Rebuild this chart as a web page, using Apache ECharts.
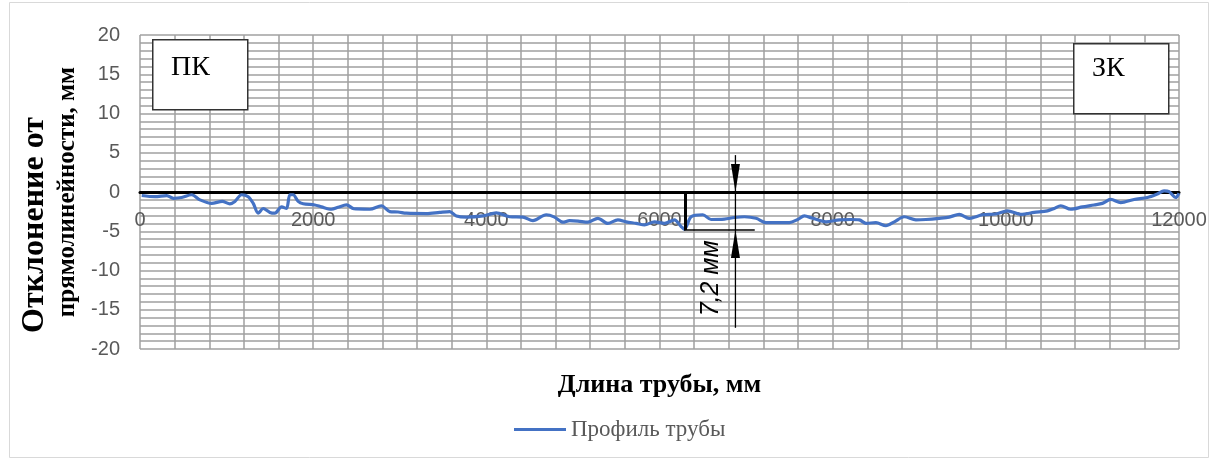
<!DOCTYPE html>
<html>
<head>
<meta charset="utf-8">
<script src="https://cdn.jsdelivr.net/npm/echarts@6/dist/echarts.min.js"></script>
<style>
html,body{margin:0;padding:0;background:#fff;}
#chart{width:1213px;height:459px;}
</style>
</head>
<body>
<div id="chart"></div>
<script>
// ---- data ----
const seriesName = 'Профиль трубы';
const lengthMm = [20,173,308,385,481,596,692,827,950,1038,1096,1173,1250,1308,1365,1423,1500,1558,1635,1692,1731,1769,1827,1885,2019,2096,2212,2288,2385,2461,2500,2654,2788,2885,2981,3077,3308,3461,3577,3654,3769,3962,4115,4269,4423,4538,4692,4788,4885,4962,5058,5173,5288,5404,5519,5615,5731,5827,5942,6058,6173,6250,6288,6365,6500,6596,6750,6865,6981,7115,7231,7365,7500,7596,7673,7769,7923,8077,8212,8308,8385,8500,8615,8712,8827,8962,9077,9231,9346,9462,9577,9731,9885,10019,10173,10327,10481,10558,10635,10750,10885,11019,11115,11212,11327,11481,11635,11750,11827,11885,11962,12000];
const deviationMm = [-0.45,-0.6,-0.45,-0.8,-0.7,-0.35,-1.0,-1.45,-1.2,-1.5,-1.2,-0.35,-0.6,-1.45,-2.7,-2.1,-2.6,-2.7,-1.9,-2.1,-0.35,-0.35,-1.2,-1.5,-1.65,-1.9,-2.2,-1.95,-1.65,-2.1,-2.15,-2.2,-1.75,-2.5,-2.55,-2.7,-2.75,-2.6,-2.5,-3.05,-3.2,-3.05,-2.65,-3.15,-3.2,-3.65,-2.9,-3.2,-3.85,-3.65,-3.7,-3.85,-3.35,-4.0,-3.55,-3.8,-4.0,-4.2,-3.8,-4.0,-3.55,-4.4,-4.75,-3.15,-2.9,-3.5,-3.45,-3.25,-3.15,-3.35,-3.9,-3.9,-3.9,-3.5,-3.05,-3.35,-3.8,-3.55,-3.5,-3.55,-4.0,-3.9,-4.3,-3.8,-3.15,-3.55,-3.5,-3.35,-3.2,-2.85,-3.35,-2.9,-2.8,-2.4,-2.85,-2.6,-2.4,-2.1,-1.75,-2.2,-1.9,-1.65,-1.45,-0.95,-1.35,-0.95,-0.7,-0.25,0.15,0.05,-0.7,-0.15];
const xTicks = {min: 0, max: 12000, step: 2000};
const yTicks = {min: -20, max: 20, step: 5};
const xTitle = 'Длина трубы, мм';
const yTitleLine1 = 'Отклонение от';
const yTitleLine2 = 'прямолинейности, мм';
const startLabel = 'ПК';
const endLabel = 'ЗК';
// dimension annotation (data coordinates)
const dimBarX = 6300;
const dimBottomY = -4.84;
const dimTickEndX = 7100;
const dimLineX = 6877;
const dimTopY = 4.7;
const dimLineBottomY = -17.3;
const dimTextY = -11;
const dimLabel = '7,2 мм';

const profile = lengthMm.map((x, i) => [x, deviationMm[i]]);

const chart = echarts.init(document.getElementById('chart'), null, {renderer: 'canvas'});
const gridColor = '#a0a0a0';
const option = {
  animation: false,
  backgroundColor: '#fff',
  grid: {left: 140, right: 34, top: 35, bottom: 110, containLabel: false, outerBoundsMode: 'none'},
  legend: {
    data: [seriesName],
    left: 514, top: 418, padding: 0,
    icon: 'rect', itemWidth: 52, itemHeight: 3, itemGap: 10,
    textStyle: {fontFamily: 'Liberation Serif', fontSize: 23, color: '#595959'}
  },
  xAxis: {
    type: 'value', min: xTicks.min, max: xTicks.max, interval: xTicks.step,
    name: xTitle, nameLocation: 'middle', nameGap: 23,
    nameTextStyle: {fontFamily: 'Liberation Serif', fontWeight: 'bold', fontSize: 26, color: '#000'},
    axisLine: {show: true, onZero: true, lineStyle: {color: '#000', width: 3}},
    axisTick: {show: false},
    axisLabel: {margin: -139, fontFamily: 'Liberation Sans', fontSize: 20, color: '#595959', formatter: v => String(v)},
    splitLine: {show: true, lineStyle: {color: gridColor, width: 1.5}},
    minorTick: {show: false, splitNumber: 5},
    minorSplitLine: {show: true, lineStyle: {color: gridColor, width: 1.5}}
  },
  yAxis: {
    type: 'value', min: yTicks.min, max: yTicks.max, interval: yTicks.step,
    name: '{a|' + yTitleLine1 + '}\n{b|' + yTitleLine2 + '}',
    nameLocation: 'middle', nameGap: 55, nameRotate: 90,
    nameTextStyle: {
      fontFamily: 'Liberation Serif', fontWeight: 'bold', color: '#000',
      rich: {
        a: {fontFamily: 'Liberation Serif', fontWeight: 'bold', fontSize: 32, color: '#000', lineHeight: 36, padding: [0, 66, 0, 0]},
        b: {fontFamily: 'Liberation Serif', fontWeight: 'bold', fontSize: 25, color: '#000', lineHeight: 30}
      }
    },
    axisLine: {show: false},
    axisTick: {show: false},
    axisLabel: {margin: 20, fontFamily: 'Liberation Sans', fontSize: 20, color: '#595959', formatter: v => String(v)},
    splitLine: {show: true, lineStyle: {color: gridColor, width: 1.5}},
    minorTick: {show: false, splitNumber: 5},
    minorSplitLine: {show: true, lineStyle: {color: gridColor, width: 1.5}}
  },
  graphic: [
    {type: 'rect', left: 7, top: 0, shape: {width: 1199, height: 455}, style: {fill: 'none', stroke: '#d9d9d9', lineWidth: 1}, z: -1},
    {type: 'rect', left: 152, top: 39, z: 50, shape: {width: 95, height: 70}, style: {fill: '#fff', stroke: '#333', lineWidth: 1.5}},
    {type: 'text', left: 171, top: 54, z: 51, style: {text: startLabel, font: '28px "Liberation Serif"', fill: '#000'}},
    {type: 'rect', left: 1073, top: 43, z: 50, shape: {width: 95, height: 70}, style: {fill: '#fff', stroke: '#333', lineWidth: 1.5}},
    {type: 'text', left: 1092, top: 55, z: 51, style: {text: endLabel, font: '28px "Liberation Serif"', fill: '#000'}}
  ],
  series: [
    {
      name: seriesName, type: 'line', data: profile, smooth: 0.3,
      showSymbol: false, symbol: 'none',
      lineStyle: {color: '#4472C4', width: 3.2},
      itemStyle: {color: '#4472C4'},
      z: 3
    },
    {
      name: 'dimension', type: 'custom', silent: true, clip: false, z: 5,
      data: [[dimLineX, 0]],
      renderItem: function (params, api) {
        const b0 = api.coord([dimBarX, 0]);
        const b1 = api.coord([dimBarX, dimBottomY]);
        const t1 = api.coord([dimTickEndX, dimBottomY]);
        const l0 = api.coord([dimLineX, dimTopY]);
        const l1 = api.coord([dimLineX, dimLineBottomY]);
        const a1 = api.coord([dimLineX, 0]);
        const a2 = api.coord([dimLineX, dimBottomY]);
        const tp = api.coord([dimLineX, dimTextY]);
        const aw = 4.5, al = 28;
        return {
          type: 'group',
          children: [
            {type: 'line', shape: {x1: b0[0], y1: b0[1], x2: b1[0], y2: b1[1]}, style: {stroke: '#000', lineWidth: 3}},
            {type: 'line', shape: {x1: b1[0] - 1.5, y1: b1[1], x2: t1[0], y2: t1[1]}, style: {stroke: '#000', lineWidth: 1.3}},
            {type: 'line', shape: {x1: l0[0], y1: l0[1], x2: l1[0], y2: l1[1]}, style: {stroke: '#000', lineWidth: 1.3}},
            {type: 'polygon', shape: {points: [[a1[0], a1[1]], [a1[0] - aw, a1[1] - al], [a1[0] + aw, a1[1] - al]]}, style: {fill: '#000'}},
            {type: 'polygon', shape: {points: [[a2[0], a2[1]], [a2[0] - aw, a2[1] + al], [a2[0] + aw, a2[1] + al]]}, style: {fill: '#000'}},
            {type: 'text', x: tp[0] - 24, y: tp[1], rotation: Math.PI / 2,
             style: {text: dimLabel, font: 'italic 25px "Liberation Sans"', fill: '#000', align: 'center', verticalAlign: 'middle'}}
          ]
        };
      }
    }
  ]
};
chart.setOption(option);
</script>
</body>
</html>
